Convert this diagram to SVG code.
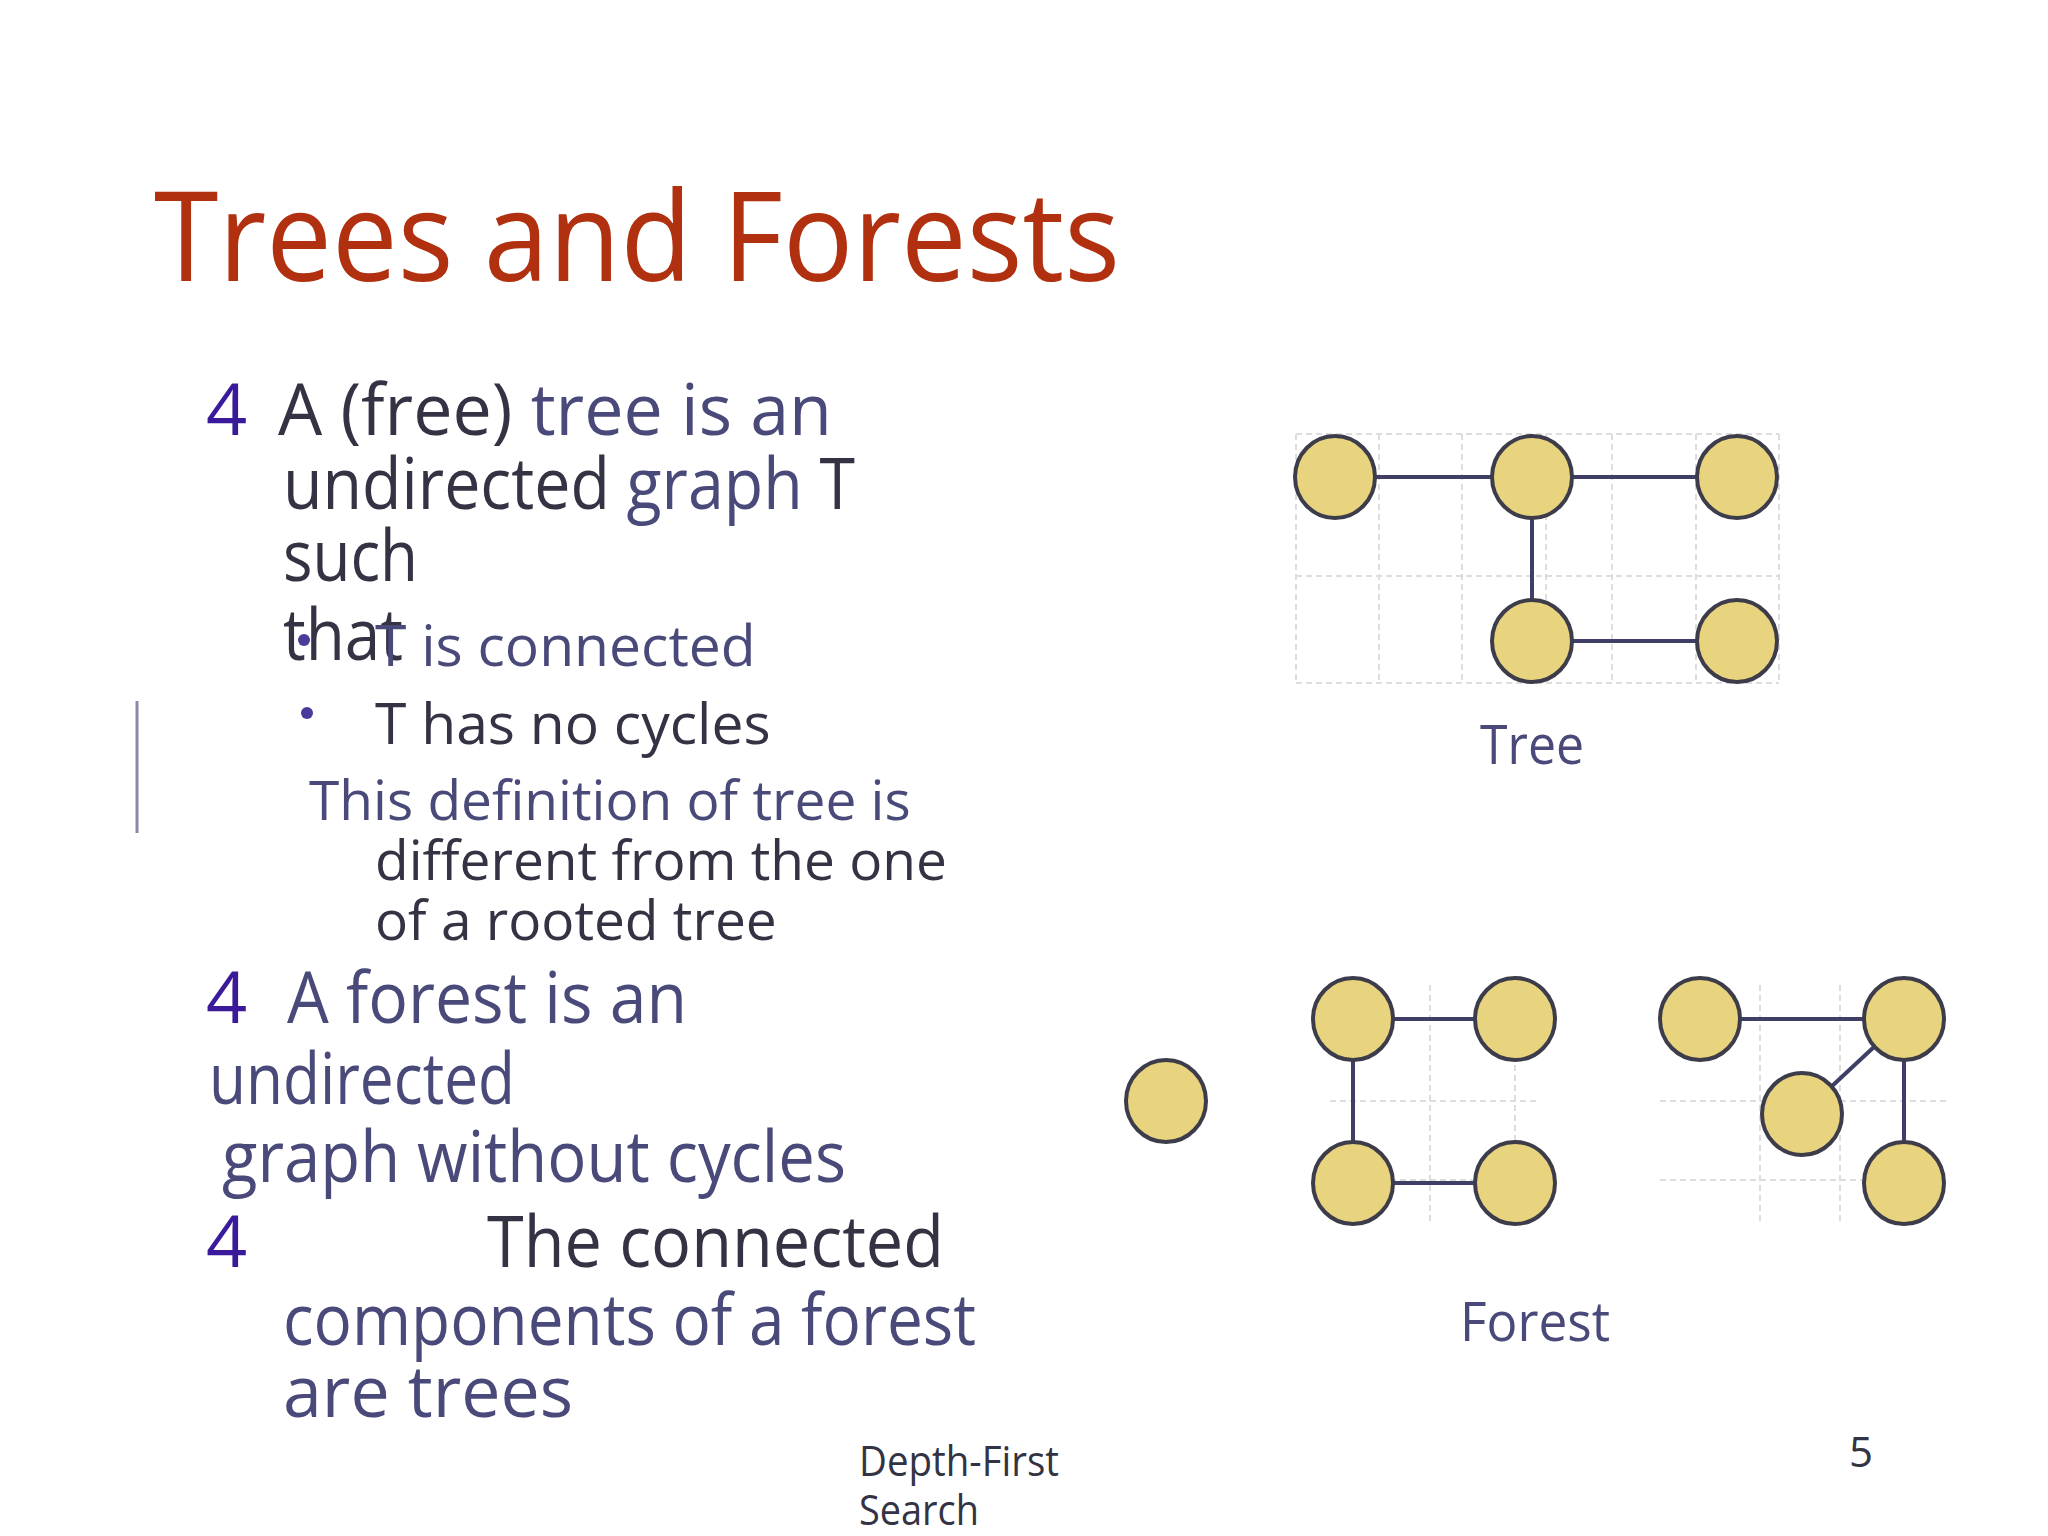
<svg xmlns="http://www.w3.org/2000/svg" width="2048" height="1536" viewBox="0 0 2048 1536">
<style>
.n{fill:#E8D37E;stroke:#3C3C4A;stroke-width:4}
.e{stroke:#3E3E66;stroke-width:4;fill:none}
.g{stroke:#DDDDDD;stroke-width:2;stroke-dasharray:6 4;fill:none}
.t{font-family:"Open Sans","Noto Sans",sans-serif;fill:#4A4A7A}
.d{fill:#333344}
.k{fill:#3A1A9A}
</style>
<rect width="2048" height="1536" fill="#fff"/>
<text x="154" y="281" font-family="'Open Sans','Noto Sans',sans-serif" font-size="125" fill="#B0300F" textLength="966" lengthAdjust="spacingAndGlyphs">Trees and Forests</text>
<g id="text">
<text class="t k" x="206" y="435" font-size="72">4</text>
<text class="t" x="278" y="435" font-size="72" textLength="554" lengthAdjust="spacingAndGlyphs"><tspan class="d">A (free)</tspan> tree is an</text>
<text class="t d" x="283" y="509" font-size="72" textLength="572" lengthAdjust="spacingAndGlyphs">undirected <tspan fill="#4A4A7A">graph</tspan> T</text>
<text class="t d" x="283" y="581" font-size="72" textLength="135" lengthAdjust="spacingAndGlyphs">such</text>
<text class="t d" x="283" y="660" font-size="72" textLength="120" lengthAdjust="spacingAndGlyphs">that</text>
<circle cx="304" cy="640" r="6" fill="#4A3A9A"/>
<text class="t" x="375" y="666" font-size="57">T is connected</text>
<circle cx="307" cy="713" r="6" fill="#4A3A9A"/>
<text class="t d" x="375" y="744" font-size="57">T has no cycles</text>
<line x1="137" y1="701" x2="137" y2="833" stroke="#8888AA" stroke-width="3"/>
<text class="t" x="309" y="820" font-size="55">This definition of tree is</text>
<text class="t d" x="375" y="880" font-size="55">different from the one</text>
<text class="t d" x="375" y="940" font-size="55">of a rooted tree</text>
<text class="t k" x="206" y="1023" font-size="72">4</text>
<text class="t" x="287" y="1023" font-size="72" textLength="400" lengthAdjust="spacingAndGlyphs">A forest is an</text>
<text class="t" x="209" y="1104" font-size="72" textLength="306" lengthAdjust="spacingAndGlyphs">undirected</text>
<text class="t" x="222" y="1182" font-size="72" textLength="624" lengthAdjust="spacingAndGlyphs">graph without cycles</text>
<text class="t k" x="206" y="1267" font-size="72">4</text>
<text class="t d" x="487" y="1267" font-size="72" textLength="457" lengthAdjust="spacingAndGlyphs">The connected</text>
<text class="t" x="283" y="1345" font-size="72" textLength="693" lengthAdjust="spacingAndGlyphs">components of a forest</text>
<text class="t" x="283" y="1417" font-size="72" textLength="290" lengthAdjust="spacingAndGlyphs">are trees</text>
<text class="t d" x="859" y="1476" font-size="42" textLength="200" lengthAdjust="spacingAndGlyphs">Depth-First</text>
<text class="t d" x="859" y="1525" font-size="42" textLength="120" lengthAdjust="spacingAndGlyphs">Search</text>
<text class="t d" x="1861" y="1467" font-size="42" text-anchor="middle">5</text>
</g>
<g id="grids">
<path class="g" d="M1296 434V683M1379 434V683M1462 434V683M1546 434V683M1612 434V683M1696 434V683M1779 434V683M1296 434H1779M1296 576H1779M1296 683H1779"/>
<path class="g" d="M1430 985V1225M1515 985V1225M1330 1101H1540M1330 1180H1540"/>
<path class="g" d="M1760 985V1225M1840 985V1225M1660 1101H1950M1660 1180H1950"/>
</g>
<g id="connectors">
<line class="e" x1="1335" y1="477" x2="1737" y2="477"/>
<line class="e" x1="1532" y1="477" x2="1532" y2="641"/>
<line class="e" x1="1532" y1="641" x2="1737" y2="641"/>
<line class="e" x1="1353" y1="1019" x2="1515" y2="1019"/>
<line class="e" x1="1353" y1="1019" x2="1353" y2="1183"/>
<line class="e" x1="1353" y1="1183" x2="1515" y2="1183"/>
<line class="e" x1="1700" y1="1019" x2="1904" y2="1019"/>
<line class="e" x1="1904" y1="1019" x2="1802" y2="1114"/>
<line class="e" x1="1904" y1="1019" x2="1904" y2="1183"/>
</g>
<g id="tree">
<ellipse id="t1" class="n" cx="1335" cy="477" rx="40" ry="41"/>
<ellipse id="t2" class="n" cx="1532" cy="477" rx="40" ry="41"/>
<ellipse id="t3" class="n" cx="1737" cy="477" rx="40" ry="41"/>
<ellipse id="t4" class="n" cx="1532" cy="641" rx="40" ry="41"/>
<ellipse id="t5" class="n" cx="1737" cy="641" rx="40" ry="41"/>
<text class="t" x="1532" y="764" font-size="54" text-anchor="middle" fill="#33335A" textLength="104" lengthAdjust="spacingAndGlyphs">Tree</text>
</g>
<g id="forest">
<ellipse id="f0" class="n" cx="1166" cy="1101" rx="40" ry="41"/>
<ellipse id="f1" class="n" cx="1353" cy="1019" rx="40" ry="41"/>
<ellipse id="f2" class="n" cx="1515" cy="1019" rx="40" ry="41"/>
<ellipse id="f3" class="n" cx="1353" cy="1183" rx="40" ry="41"/>
<ellipse id="f4" class="n" cx="1515" cy="1183" rx="40" ry="41"/>
<ellipse id="f5" class="n" cx="1700" cy="1019" rx="40" ry="41"/>
<ellipse id="f6" class="n" cx="1904" cy="1019" rx="40" ry="41"/>
<ellipse id="f7" class="n" cx="1802" cy="1114" rx="40" ry="41"/>
<ellipse id="f8" class="n" cx="1904" cy="1183" rx="40" ry="41"/>
<text class="t" x="1535" y="1341" font-size="54" text-anchor="middle" textLength="150" lengthAdjust="spacingAndGlyphs">Forest</text>
</g>
</svg>
